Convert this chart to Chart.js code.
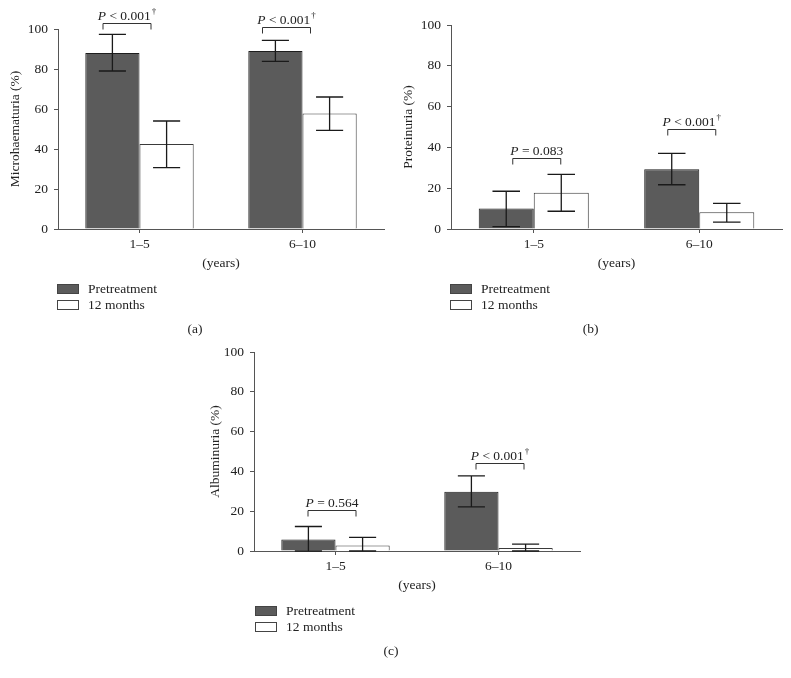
<!DOCTYPE html>
<html>
<head>
<meta charset="utf-8">
<script src="https://cdn.jsdelivr.net/npm/chart.js@4.4.0/dist/chart.umd.min.js"></script>
<style>
  html, body { margin: 0; padding: 0; background: #fff; }
  body { width: 791px; height: 678px; position: relative; overflow: hidden; }
  .panel { position: absolute; }
</style>
</head>
<body>
<div class="panel" style="left:0;top:0"><canvas id="chartA" width="395" height="345"></canvas></div>
<div class="panel" style="left:395px;top:0"><canvas id="chartB" width="396" height="345"></canvas></div>
<div class="panel" style="left:200px;top:322px"><canvas id="chartC" width="390" height="345"></canvas></div>
<script>
Chart.defaults.animation = false;
Chart.defaults.font.family = '"Liberation Serif", "Times New Roman", serif';

// ---- data ----
const categories = ["1–5", "6–10"];
const seriesNames = ["Pretreatment", "12 months"];

// (a) microhaematuria
const microPre = [88, 89];
const microPreLow = [79, 83.8];
const microPreHigh = [97.3, 94.3];
const microPost = [42.5, 57.8];
const microPostLow = [30.7, 49.3];
const microPostHigh = [54, 66];
const microP = ["P < 0.001†", "P < 0.001†"];
const microPLevel = [102.9, 101.2];

// (b) proteinuria
const protPre = [10, 29.3];
const protPreLow = [1.2, 21.7];
const protPreHigh = [18.5, 37.1];
const protPost = [17.8, 8.2];
const protPostLow = [8.7, 3.4];
const protPostHigh = [26.8, 12.6];
const protP = ["P = 0.083", "P < 0.001†"];
const protPLevel = [35, 49];

// (c) albuminuria
const albPre = [5.8, 29.8];
const albPreLow = [0, 22.2];
const albPreHigh = [12.3, 37.8];
const albPost = [2.8, 1.5];
const albPostLow = [0, 0];
const albPostHigh = [6.8, 3.5];
const albP = ["P = 0.564", "P < 0.001†"];
const albPLevel = [20.7, 44.1];

const yTicks = [0, 20, 40, 60, 80, 100];

// ---- styling ----
const FONT = '"Liberation Serif", "Times New Roman", serif';
const TEXT = "#222";
const AXIS = "#555";
const DARK = "#5b5b5b";

function drawP(ctx, txt, cx, baseY) {
  const dag = txt.endsWith("†");
  const body = txt.slice(1, dag ? -1 : undefined);
  const fi = "italic 13.5px " + FONT, fr = "13.5px " + FONT, fs = "9px " + FONT;
  ctx.font = fi; const w1 = ctx.measureText("P").width;
  ctx.font = fr; const w2 = ctx.measureText(body).width;
  ctx.font = fs; const w3 = dag ? ctx.measureText("†").width + 1 : 0;
  let x = cx - (w1 + w2 + w3) / 2;
  ctx.textAlign = "left";
  ctx.textBaseline = "alphabetic";
  ctx.fillStyle = TEXT;
  ctx.font = fi; ctx.fillText("P", x, baseY); x += w1;
  ctx.font = fr; ctx.fillText(body, x, baseY); x += w2;
  if (dag) { ctx.font = fs; ctx.fillText("†", x + 1, baseY - 6); }
}

function makeChart(id, o) {
  const errorBars = {
    id: "errorBars",
    afterDatasetsDraw(chart) {
      const ctx = chart.ctx, ys = chart.scales.y;
      ctx.save();
      ctx.strokeStyle = "#1a1a1a";
      ctx.lineWidth = 1.3;
      chart.data.datasets.forEach((ds, di) => {
        chart.getDatasetMeta(di).data.forEach((bar, i) => {
          const x = bar.x, half = bar.width / 4;
          const yh = ys.getPixelForValue(ds.errHigh[i]);
          const yl = ys.getPixelForValue(ds.errLow[i]);
          ctx.beginPath();
          ctx.moveTo(x, yl); ctx.lineTo(x, yh);
          ctx.moveTo(x - half, yh); ctx.lineTo(x + half, yh);
          ctx.moveTo(x - half, yl); ctx.lineTo(x + half, yl);
          ctx.stroke();
        });
      });
      ctx.restore();
    }
  };

  const extras = {
    id: "extras",
    afterDraw(chart) {
      const ctx = chart.ctx, ca = chart.chartArea;
      const xs = chart.scales.x, ys = chart.scales.y;
      ctx.save();
      // significance brackets
      ctx.strokeStyle = "#333";
      ctx.lineWidth = 1;
      o.pText.forEach((t, i) => {
        const cx = xs.getPixelForValue(i) + o.pDx[i];
        const y = Math.round(ys.getPixelForValue(o.pLevel[i])) + 0.5;
        ctx.beginPath();
        ctx.moveTo(cx - 24, y + 6); ctx.lineTo(cx - 24, y);
        ctx.lineTo(cx + 24, y); ctx.lineTo(cx + 24, y + 6);
        ctx.stroke();
        drawP(ctx, t, cx, y - 4);
      });
      // legend
      ctx.font = "13.5px " + FONT;
      ctx.textBaseline = "middle";
      ctx.textAlign = "left";
      chart.data.datasets.forEach((ds, i) => {
        const cy = Math.round(ca.bottom + 60 + i * 16.3);
        const bx = Math.round(ca.left + o.legendDx);
        ctx.fillStyle = ds.backgroundColor;
        ctx.fillRect(bx, cy - 5, 22, 10);
        ctx.strokeStyle = "#444";
        ctx.strokeRect(bx + 0.5, cy - 4.5, 21, 9);
        ctx.fillStyle = TEXT;
        ctx.fillText(ds.label, bx + 31, cy);
      });
      // panel label
      ctx.textAlign = "center";
      ctx.fillText(o.panel, (ca.left + ca.right) / 2 - 26, ca.bottom + 100);
      ctx.restore();
    }
  };

  return new Chart(document.getElementById(id), {
    type: "bar",
    data: {
      labels: categories,
      datasets: [
        {
          label: seriesNames[0], data: o.pre, errLow: o.preLow, errHigh: o.preHigh,
          backgroundColor: DARK, borderColor: "#1e1e1e", borderWidth: 1,
          categoryPercentage: 0.665, barPercentage: 1
        },
        {
          label: seriesNames[1], data: o.post, errLow: o.postLow, errHigh: o.postHigh,
          backgroundColor: "#ffffff", borderColor: "#3a3a3a", borderWidth: 1,
          categoryPercentage: 0.665, barPercentage: 1
        }
      ]
    },
    options: {
      responsive: false,
      animation: false,
      layout: { padding: { top: o.top, right: o.right, bottom: 71, left: 0 } },
      plugins: { legend: { display: false }, tooltip: { enabled: false } },
      scales: {
        x: {
          offset: true,
          grid: { drawOnChartArea: false, offset: false, color: AXIS, tickLength: 4 },
          border: { color: AXIS },
          ticks: { color: TEXT, font: { size: 13.5 }, padding: 3, maxRotation: 0 },
          title: { display: true, text: "(years)", color: TEXT, font: { size: 13.5 }, padding: { top: 0, bottom: 2 } },
          afterFit: s => { s.height = 45; }
        },
        y: {
          min: 0, max: 100,
          afterBuildTicks: s => { s.ticks = yTicks.map(v => ({ value: v })); },
          grid: { drawOnChartArea: false, color: AXIS, tickLength: 4 },
          border: { color: AXIS },
          ticks: { color: TEXT, font: { size: 13.5 }, padding: 6 },
          title: { display: true, text: o.yTitle, color: TEXT, font: { size: 13.5 }, padding: { top: o.titlePad, bottom: 0 } },
          afterFit: s => { s.width = o.axisW; }
        }
      }
    },
    plugins: [errorBars, extras]
  });
}

makeChart("chartA", {
  pre: microPre, preLow: microPreLow, preHigh: microPreHigh,
  post: microPost, postLow: microPostLow, postHigh: microPostHigh,
  pText: microP, pLevel: microPLevel, pDx: [-12.5, -16],
  yTitle: "Microhaematuria (%)", panel: "(a)",
  top: 29, right: 11, axisW: 58, titlePad: 7.4, legendDx: -1
});

makeChart("chartB", {
  pre: protPre, preLow: protPreLow, preHigh: protPreHigh,
  post: protPost, postLow: protPostLow, postHigh: protPostHigh,
  pText: protP, pLevel: protPLevel, pDx: [3, -7.5],
  yTitle: "Proteinuria (%)", panel: "(b)",
  top: 25, right: 9, axisW: 56, titlePad: 5, legendDx: -1
});

makeChart("chartC", {
  pre: albPre, preLow: albPreLow, preHigh: albPreHigh,
  post: albPost, postLow: albPostLow, postHigh: albPostHigh,
  pText: albP, pLevel: albPLevel, pDx: [-3.5, 1.5],
  yTitle: "Albuminuria (%)", panel: "(c)",
  top: 30, right: 10, axisW: 54, titlePad: 7.4, legendDx: 1
});
</script>
</body>
</html>
